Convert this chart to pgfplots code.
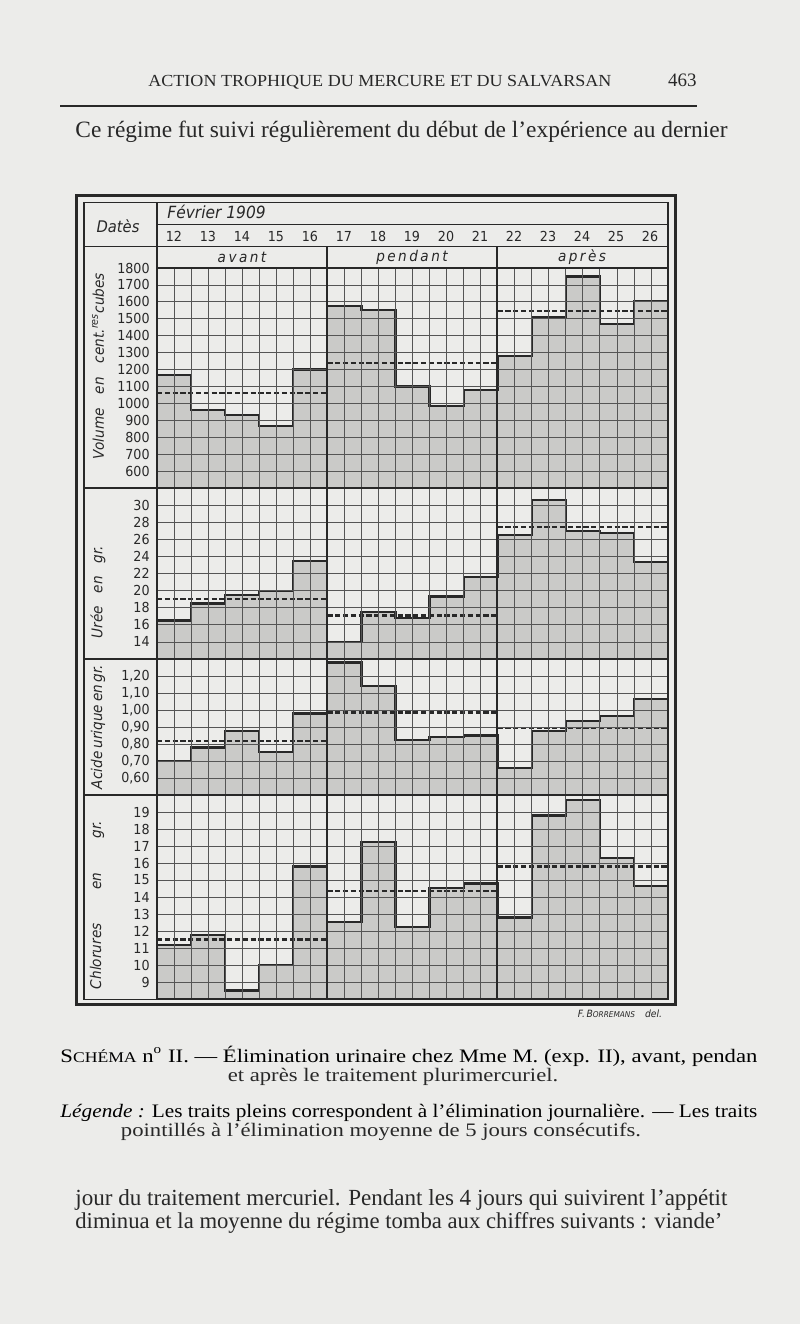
\documentclass[border=0pt]{standalone}
\usepackage{fontspec}
\usepackage{graphicx}
\usepackage{pgfplots}
\usepackage{pgfplotstable}
\pgfplotsset{compat=1.18}
\setmainfont{Liberation Serif}
\newfontfamily\lett[FakeStretch=0.92]{DejaVu Sans}
\definecolor{paper}{RGB}{236,236,234}
\definecolor{ink}{RGB}{40,40,40}
\definecolor{gridc}{RGB}{85,85,85}
\definecolor{shade}{RGB}{202,202,200}
\newcommand\tickfont{\lett\fontsize{6.9}{7}\selectfont}
\newcommand\labfont{\lett\itshape\fontsize{7.4}{8}\selectfont}
\newcommand\capfont{\fontsize{9}{11}\selectfont}

\pgfplotstableread{
x vol uree acide chlor
0 1170 16.5 0.700 11.20
1 960 18.5 0.780 11.75
2 930 19.5 0.875 8.50
3 865 20.0 0.755 10.00
4 1200 23.5 0.980 15.80
5 1575 14.0 1.280 12.55
6 1550 17.5 1.140 17.25
7 1100 16.8 0.825 12.25
8 985 19.3 0.840 14.55
9 1080 21.6 0.850 14.80
10 1280 26.5 0.660 12.80
11 1510 30.6 0.875 18.80
12 1750 27.0 0.933 19.70
13 1470 26.7 0.965 16.30
14 1605 23.3 1.067 14.65
15 1605 23.3 1.067 14.65
}\daily

\pgfplotsset{
  panel/.style={
    scale only axis, width=255.5pt, xmin=0, xmax=15,
    anchor=north west,
    axis line style={draw=ink, line width=0.7pt},
    xtick={0,0.5,...,15}, xticklabels={},
    major tick length=0pt, minor tick length=0pt,
    grid=major, grid style={draw=gridc, line width=0.38pt},
    axis on top, clip=true,
    yticklabel style={font=\tickfont, text=ink, anchor=east, inner sep=0pt, xshift=-3.5pt},
  },
  fillstep/.style={const plot, fill=shade, draw=none},
  linestep/.style={const plot, draw=ink, line width=1.1pt},
  avg/.style={draw=ink, line width=1.1pt, dash pattern=on 2.6pt off 1.3pt},
}

\newsavebox\capA
\newsavebox\capB
\newlength\capw

\begin{document}
\sbox\capA{\capfont S{\fontsize{7}{8}\selectfont CHÉMA} n\textsuperscript{o} II. — Élimination urinaire chez Mme M. (exp. II), avant, pendan}%
\setlength\capw{\wd\capA}%
\pgfmathsetmacro\capscale{348.5/\capw}%
\pgfmathsetmacro\capy{0.84*\capscale}%
\sbox\capB{\capfont \textit{Légende :} Les traits pleins correspondent à l'élimination journalière. — Les traits}%
\setlength\capw{\wd\capB}%
\pgfmathsetmacro\capscaleB{348.5/\capw}%
\begin{tikzpicture}[x=0.5pt,y=-0.5pt]
\fill[paper] (0,0) rectangle (800,1324);

% ---------- Volume ----------
\begin{axis}[panel, at={(78.5pt,-134pt)}, height=110pt, ymin=500, ymax=1800,
  ytick={600,700,800,900,1000,1100,1200,1300,1400,1500,1600,1700,1800},
  yticklabels={600,700,800,900,1000,1100,1200,1300,1400,1500,1600,1700,1800}]
\addplot[fillstep] table[x=x,y=vol]{\daily} \closedcycle;
\addplot[linestep] table[x=x,y=vol]{\daily};
\addplot[avg] coordinates {(0,1062)(5,1062)};
\addplot[avg] coordinates {(5,1240)(10,1240)};
\addplot[avg] coordinates {(10,1545)(15,1545)};
\end{axis}

% ---------- Uree ----------
\begin{axis}[panel, at={(78.5pt,-244pt)}, height=85.5pt, ymin=12, ymax=32,
  ytick={14,16,18,20,22,24,26,28,30},
  yticklabels={14,16,18,20,22,24,26,28,30}]
\addplot[fillstep] table[x=x,y=uree]{\daily} \closedcycle;
\addplot[linestep] table[x=x,y=uree]{\daily};
\addplot[avg] coordinates {(0,19.0)(5,19.0)};
\addplot[avg] coordinates {(5,17.1)(10,17.1)};
\addplot[avg] coordinates {(10,27.4)(15,27.4)};
\end{axis}

% ---------- Acide urique ----------
\begin{axis}[panel, at={(78.5pt,-329.5pt)}, height=68pt, ymin=0.5, ymax=1.3,
  ytick={0.6,0.7,0.8,0.9,1.0,1.1,1.2},
  yticklabels={{0,60},{0,70},{0,80},{0,90},{1,00},{1,10},{1,20}}]
\addplot[fillstep] table[x=x,y=acide]{\daily} \closedcycle;
\addplot[linestep] table[x=x,y=acide]{\daily};
\addplot[avg] coordinates {(0,0.816)(5,0.816)};
\addplot[avg] coordinates {(5,0.985)(10,0.985)};
\addplot[avg] coordinates {(10,0.896)(15,0.896)};
\end{axis}

% ---------- Chlorures ----------
\begin{axis}[panel, at={(78.5pt,-397.5pt)}, height=102pt, ymin=8, ymax=20,
  ytick={9,10,11,12,13,14,15,16,17,18,19},
  yticklabels={9,10,11,12,13,14,15,16,17,18,19}]
\addplot[fillstep] table[x=x,y=chlor]{\daily} \closedcycle;
\addplot[linestep] table[x=x,y=chlor]{\daily};
\addplot[avg] coordinates {(0,11.5)(5,11.5)};
\addplot[avg] coordinates {(5,14.35)(10,14.35)};
\addplot[avg] coordinates {(10,15.8)(15,15.8)};
\end{axis}

% ---------- frame and table lines ----------
\draw[ink, line width=1.5pt] (76.7,195) rectangle (675,1004);
\draw[ink, line width=0.6pt] (84,202.7) rectangle (668,999.3);
\draw[ink, line width=0.6pt] (157,202.7) -- (157,999.3);
\draw[ink, line width=0.6pt] (157,224.3) -- (668,224.3);
\draw[ink, line width=0.6pt] (84,246.7) -- (668,246.7);
\draw[ink, line width=0.8pt] (84,488) -- (668,488);
\draw[ink, line width=0.8pt] (84,659) -- (668,659);
\draw[ink, line width=0.8pt] (84,795) -- (668,795);
\draw[ink, line width=0.9pt] (327,246.7) -- (327,999.3);
\draw[ink, line width=0.9pt] (497,246.7) -- (497,999.3);

% ---------- header texts ----------
\node[anchor=west, inner sep=0pt, text=ink] at (167,212) {\lett\itshape\fontsize{8.4}{9}\selectfont F\'evrier 1909};
\node[inner sep=0pt, text=ink] at (118,226) {\lett\itshape\fontsize{8}{9}\selectfont Dat\`es};
\foreach \d [count=\i from 0] in {12,13,14,15,16,17,18,19,20,21,22,23,24,25,26}
  \node[anchor=base, inner sep=0pt, text=ink] at (174+34*\i,241) {\tickfont\d};
\node[inner sep=0pt, text=ink] at (242,257) {\labfont a\,v\,a\,n\,t};
\node[inner sep=0pt, text=ink] at (412,257) {\labfont p\,e\,n\,d\,a\,n\,t};
\node[inner sep=0pt, text=ink] at (582,257) {\labfont a\,p\,r\,\`e\,s};

% ---------- left titles ----------
\node[rotate=90, inner sep=0pt, text=ink] at (98,366) {\labfont\makebox[93pt][s]{Volume en cent.\textsuperscript{res}cubes}};
\node[rotate=90, inner sep=0pt, text=ink] at (98,592) {\labfont\makebox[46pt][s]{Ur\'ee en gr.}};
\node[rotate=90, inner sep=0pt, text=ink] at (98,728) {\labfont\makebox[61pt][s]{Acide urique en gr.}};
\node[rotate=90, inner sep=0pt, text=ink] at (97,905) {\labfont\makebox[84pt][s]{Chlorures en gr.}};

\node[inner sep=0pt, text=ink] at (620,1014) {\lett\itshape\fontsize{5}{6}\selectfont F.\,B{\fontsize{4}{5}\selectfont ORREMANS}\quad del.};

% ---------- page text ----------
\node[anchor=base west, inner sep=0pt, text=ink] at (148,86) {\resizebox{231.5pt}{5.6pt}{ACTION TROPHIQUE DU MERCURE ET DU SALVARSAN}};
\node[anchor=base east, inner sep=0pt, text=ink] at (697,86) {\fontsize{9.5}{11}\selectfont 463};
\draw[ink, line width=0.6pt] (60,106) -- (697,106);
\node[anchor=base west, inner sep=0pt, text=ink] at (75,137) {\resizebox{326pt}{!}{\fontsize{10}{12}\selectfont Ce régime fut suivi régulièrement du début de l'expérience au dernier}};

\node[anchor=base west, inner sep=0pt, text=ink] at (60,1062) {\scalebox{\capscale}[\capy]{\usebox\capA}};
\node[anchor=base, inner sep=0pt, text=ink] at (393,1081) {\scalebox{\capscale}[\capy]{\capfont et après le traitement plurimercuriel.}};
\node[anchor=base west, inner sep=0pt, text=ink] at (60,1117) {\scalebox{\capscaleB}[\capy]{\usebox\capB}};
\node[anchor=base, inner sep=0pt, text=ink] at (381,1136) {\scalebox{\capscale}[\capy]{\capfont pointillés à l'élimination moyenne de 5 jours consécutifs.}};

\node[anchor=base west, inner sep=0pt, text=ink] at (75,1205) {\resizebox{326pt}{!}{\fontsize{10}{12}\selectfont jour du traitement mercuriel. Pendant les 4 jours qui suivirent l'appétit}};
\node[anchor=base west, inner sep=0pt, text=ink] at (75,1228) {\resizebox{323.5pt}{!}{\fontsize{10}{12}\selectfont diminua et la moyenne du régime tomba aux chiffres suivants : viande'}};
\end{tikzpicture}
\end{document}
